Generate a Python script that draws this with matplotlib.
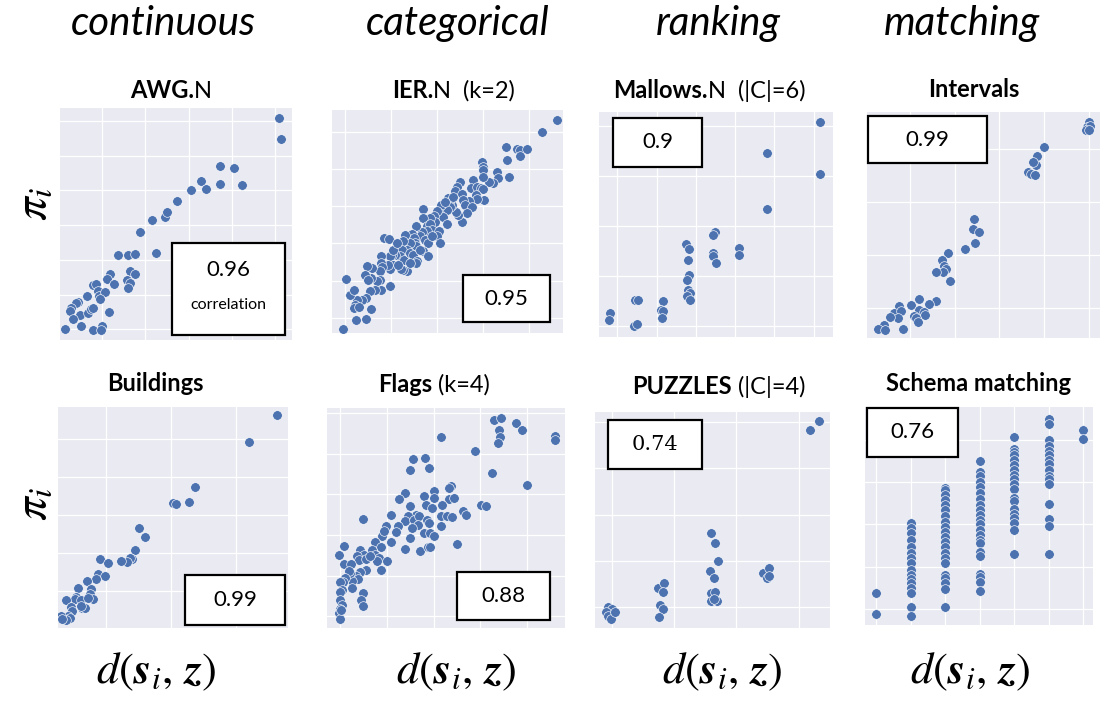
import numpy as np
import matplotlib.pyplot as plt
from matplotlib.patches import Rectangle

W, H = 1116, 701

# ---------------------------------------------------------------------------
# data (arbitrary units, the plots carry no tick labels)
# ---------------------------------------------------------------------------
awg_x = [6.55, 6.63, 4.80, 5.20, 3.93, 4.23, 4.38, 4.80, 5.45, 3.50, 2.77, 3.15,
         3.20, 2.40, 1.75, 2.03, 2.24, 2.87, 2.09, 2.25, 1.50, 1.42, 1.63, 2.00,
         2.10, 2.03, 0.98, 1.09, 0.82, 1.13, 1.18, 1.35, 1.20, 0.55, 0.48, 0.34,
         0.30, 0.60, 0.40, 0.84, 0.93, 1.00, 1.46, 0.62, 0.15, 1.00, 1.25, 1.22]
awg_y = [6.65, 6.03, 5.22, 5.14, 4.50, 4.77, 4.52, 4.67, 4.65, 4.15, 3.60, 3.68,
         3.82, 3.23, 2.55, 2.55, 2.59, 2.62, 2.08, 1.98, 1.97, 1.83, 1.67, 1.80,
         1.72, 1.55, 1.65, 1.67, 1.33, 1.47, 1.33, 1.45, 1.22, 1.15, 1.10, 0.97,
         0.87, 0.75, 0.62, 0.82, 0.92, 0.97, 0.83, 0.42, 0.32, 0.30, 0.42, 0.30]

ier_x = [6.77, 6.32, 5.25, 5.57, 5.67, 5.88, 5.65, 5.27, 4.50, 4.53, 4.55, 4.97,
         5.32, 5.00, 4.85, 4.71, 4.53, 4.23, 3.85, 3.75, 3.70, 4.17, 4.35, 4.47,
         4.55, 4.33, 4.57, 4.35, 4.13, 3.90, 3.95, 4.00, 4.22, 4.05, 3.90, 3.80,
         3.72, 3.60, 3.48, 3.53, 3.55, 3.45, 3.27, 3.23, 3.35, 3.45, 3.15, 3.07,
         3.10, 2.95, 2.75, 2.75, 2.85, 2.95, 3.02, 3.23, 3.15, 3.25, 2.87, 2.70,
         2.65, 2.80, 2.90, 2.75, 2.88, 2.53, 2.40, 2.47, 2.50, 2.53, 2.35, 2.27,
         2.20, 2.15, 2.10, 2.05, 2.18, 2.35, 2.45, 2.55, 2.53, 2.25, 2.15, 2.08,
         1.90, 1.80, 1.73, 1.57, 1.71, 1.83, 1.75, 1.67, 1.47, 1.47, 1.50, 1.45,
         1.45, 1.48, 1.35, 1.30, 1.20, 1.17, 1.05, 1.00, 1.07, 1.13, 1.03, 0.90,
         0.75, 0.70, 0.65, 0.80, 0.55, 0.65, 1.18, 1.03, 0.73, 0.41, 0.32, 1.75,
         1.85, 2.00, 2.65, 3.65, 3.40, 3.00, 2.35, 1.97]
ier_y = [6.40, 6.04, 5.58, 5.53, 5.50, 5.53, 5.33, 5.20, 5.15, 5.00, 4.90, 4.83,
         4.68, 4.65, 4.50, 4.55, 4.68, 4.60, 4.55, 4.38, 4.28, 4.35, 4.40, 4.35,
         4.32, 4.15, 4.00, 4.02, 3.98, 4.18, 4.00, 3.85, 3.80, 3.60, 3.35, 3.55,
         3.65, 3.85, 4.05, 3.95, 3.80, 3.70, 3.85, 3.60, 3.50, 3.28, 3.68, 3.52,
         3.35, 3.45, 3.72, 3.45, 3.22, 3.28, 3.10, 3.05, 2.90, 2.70, 3.05, 3.03,
         2.90, 2.80, 2.70, 2.45, 2.32, 3.20, 2.98, 2.85, 2.70, 2.60, 2.70, 2.50,
         2.95, 2.75, 2.50, 2.30, 2.20, 2.40, 2.35, 2.15, 2.10, 1.85, 1.90, 1.92,
         2.35, 2.35, 2.30, 2.85, 2.82, 2.05, 1.92, 2.05, 2.30, 2.10, 1.98, 1.85,
         1.60, 1.30, 1.55, 1.30, 1.95, 1.65, 2.00, 1.75, 1.58, 1.25, 1.05, 1.00,
         1.00, 0.85, 0.75, 0.78, 1.15, 1.30, 0.72, 0.42, 0.38, 1.63, 0.12, 1.40,
         2.50, 2.05, 2.50, 4.10, 3.95, 2.90, 2.10, 2.70]

mallows_x = [6.63, 5.06, 6.63, 5.06, 3.48, 3.43, 2.61, 2.71, 3.41, 3.43, 3.51, 4.21,
             4.21, 2.68, 2.70, 2.65, 2.68, 2.73, 2.63, 2.73, 1.08, 1.16, 1.93, 1.85,
             1.91, 1.88, 0.33, 0.31, 1.05, 1.15]
mallows_y = [6.45, 5.53, 4.88, 3.83, 3.15, 3.05, 2.78, 2.63, 2.52, 2.42, 2.22, 2.67,
             2.47, 2.30, 1.87, 1.72, 1.42, 1.32, 1.22, 1.12, 1.10, 1.10, 1.08, 0.82,
             0.77, 0.57, 0.72, 0.50, 0.32, 0.40]

intervals_x = [6.67, 6.62, 6.70, 6.58, 6.66, 5.33, 5.12, 5.07, 5.00, 4.83, 4.92, 5.05,
               3.20, 3.17, 3.36, 3.25, 2.95, 2.42, 2.25, 2.32, 2.38, 2.27, 2.08, 2.48,
               2.08, 1.85, 1.55, 1.32, 1.55, 1.70, 1.73, 1.40, 1.48, 1.54, 0.95, 0.80,
               1.03, 0.92, 0.68, 0.50, 0.32, 0.55, 1.08]
intervals_y = [6.50, 6.35, 6.37, 6.25, 6.25, 5.75, 5.48, 5.20, 5.30, 5.00, 4.93, 4.90,
               3.58, 3.28, 3.20, 2.87, 2.67, 2.55, 2.35, 2.17, 2.07, 2.00, 2.00, 1.72,
               1.12, 1.02, 1.17, 1.00, 0.83, 0.78, 0.70, 0.67, 0.60, 0.48, 0.97, 0.75,
               0.82, 0.60, 0.63, 0.38, 0.28, 0.25, 0.28]

buildings_x = [6.58, 5.72, 4.10, 3.93, 3.45, 3.55, 2.43, 2.61, 2.31, 2.23, 2.15, 2.07,
               1.88, 1.27, 1.51, 1.20, 1.40, 1.13, 0.88, 1.00, 0.95, 0.60, 0.55, 0.50,
               0.70, 1.05, 0.90, 0.25, 0.40, 0.43, 0.73, 0.80, 0.70, 0.30, 0.35, 0.25,
               0.08, 0.12]
buildings_y = [6.42, 5.60, 4.25, 3.78, 3.77, 3.72, 3.00, 2.75, 2.35, 2.07, 2.12, 2.00,
               2.03, 2.07, 1.95, 1.63, 1.55, 1.47, 1.42, 1.17, 1.03, 1.20, 0.92, 0.87,
               0.85, 0.88, 0.90, 0.85, 0.63, 0.50, 0.60, 0.60, 0.65, 0.37, 0.30, 0.25,
               0.35, 0.27]

flags_x = [5.02, 5.22, 5.68, 5.87, 5.16, 5.20, 5.15, 6.85, 6.85, 3.42, 4.45, 4.95,
           6.02, 2.58, 2.93, 2.48, 3.05, 3.73, 3.68, 3.20, 3.20, 3.68, 3.82, 3.45,
           2.90, 2.98, 3.15, 2.34, 2.16, 2.48, 2.68, 2.43, 2.35, 2.60, 2.77, 2.73,
           3.00, 3.05, 2.90, 3.08, 3.22, 3.41, 3.60, 3.75, 3.42, 4.10, 4.17, 4.62,
           4.77, 3.90, 2.55, 2.48, 2.35, 2.78, 3.02, 3.10, 1.92, 1.78, 1.65, 1.72,
           2.14, 2.06, 1.92, 1.45, 1.63, 1.35, 1.43, 1.55, 1.50, 1.63, 1.80, 1.07,
           1.00, 1.10, 0.90, 0.95, 1.17, 1.30, 1.16, 1.00, 0.88, 0.93, 0.75, 0.75,
           0.70, 0.52, 0.35, 0.52, 0.72, 0.65, 0.55, 0.48, 0.38, 0.45, 0.38, 0.40,
           0.45, 0.38, 0.35, 0.40, 0.42, 1.07, 1.02, 1.07]
flags_y = [6.25, 6.29, 6.15, 5.95, 5.95, 5.73, 5.55, 5.75, 5.65, 5.73, 5.30, 4.65,
           4.30, 5.07, 5.09, 4.75, 4.80, 4.25, 4.19, 4.10, 3.90, 3.87, 3.89, 3.70,
           3.97, 3.70, 3.60, 4.05, 3.87, 3.65, 3.40, 3.35, 3.20, 3.23, 3.35, 3.10,
           3.23, 3.15, 2.85, 2.85, 2.75, 3.35, 3.35, 3.33, 3.07, 3.50, 3.40, 3.70,
           3.67, 2.53, 3.00, 2.70, 2.38, 2.30, 2.42, 2.42, 3.40, 3.05, 2.77, 2.90,
           3.05, 2.87, 2.58, 2.57, 2.43, 2.35, 2.20, 2.10, 2.00, 1.75, 2.00, 3.27,
           2.35, 2.20, 2.17, 2.05, 2.07, 2.15, 1.75, 1.67, 1.55, 1.47, 1.40, 1.20,
           1.65, 2.45, 2.20, 1.92, 1.93, 1.70, 1.50, 1.38, 1.38, 1.15, 1.07, 0.85,
           0.70, 0.57, 0.45, 0.27, 0.55, 1.05, 0.85, 0.67]

puzzles_x = [6.73, 6.45, 3.47, 3.60, 3.70, 3.45, 3.57, 3.47, 3.60, 3.47, 3.65, 3.57,
             5.03, 5.23, 5.15, 5.23, 1.88, 2.07, 2.05, 1.95, 2.05, 1.92, 0.40, 0.52,
             0.33, 0.40, 0.48, 0.59]
puzzles_y = [6.23, 5.95, 2.85, 2.55, 2.03, 1.72, 1.50, 1.05, 1.07, 0.80, 0.80, 0.87,
             1.65, 1.80, 1.50, 1.57, 1.20, 1.35, 1.07, 0.70, 0.57, 0.33, 0.63, 0.57,
             0.47, 0.37, 0.27, 0.47]

schema_x = [0, 0,
            1, 1, 1, 1, 1, 1, 1, 1, 1, 1, 1, 1, 1, 1, 1, 1,
            2, 2, 2, 2, 2, 2, 2, 2, 2, 2, 2, 2, 2, 2, 2, 2, 2, 2, 2, 2, 2,
            3, 3, 3, 3, 3, 3, 3, 3, 3, 3, 3, 3, 3, 3, 3, 3, 3, 3, 3, 3, 3, 3,
            4, 4, 4, 4, 4, 4, 4, 4, 4, 4, 4, 4, 4, 4, 4, 4, 4, 4, 4,
            5, 5, 5, 5, 5, 5, 5, 5, 5, 5, 5, 5, 5, 5, 5, 5,
            6, 6]
schema_y = [0.95, 0.32,
            3.05, 2.90, 2.75, 2.55, 2.35, 2.17, 2.00, 1.85, 1.65, 1.50, 1.37, 1.25,
            1.10, 0.97, 0.55, 0.27,
            4.13, 4.05, 3.90, 3.75, 3.60, 3.45, 3.27, 3.10, 2.95, 2.80, 2.65, 2.50,
            2.35, 2.17, 2.00, 1.85, 1.50, 1.40, 1.25, 1.07, 0.53,
            4.93, 4.60, 4.47, 4.30, 4.15, 3.97, 3.80, 3.60, 3.45, 3.30, 3.15, 3.03,
            2.85, 2.70, 2.55, 2.45, 2.20, 2.07, 1.53, 1.43, 1.30, 1.03,
            5.65, 5.30, 5.20, 5.10, 4.95, 4.80, 4.65, 4.50, 4.40, 4.25, 4.10, 3.82,
            3.73, 3.50, 3.35, 3.20, 3.05, 2.85, 2.12,
            6.18, 6.03, 5.55, 5.37, 5.22, 5.10, 4.95, 4.83, 4.67, 4.47, 4.40, 4.25,
            3.63, 3.18, 2.98, 2.12,
            5.85, 5.58]

correlations = ['0.96', '0.95', '0.9', '0.99', '0.99', '0.88', '0.74', '0.76']
column_names = ['continuous', 'categorical', 'ranking', 'matching']
titles_bold = ['AWG.', 'IER.', 'Mallows.', 'Intervals',
               'Buildings', 'Flags', 'PUZZLES', 'Schema matching']
titles_rest = ['N', 'N  (k=2)', 'N  (|C|=6)', '',
               '', ' (k=4)', ' (|C|=4)', '']

# ---------------------------------------------------------------------------
# layout (pixels of the 1116x701 picture)
# ---------------------------------------------------------------------------
panels = [
    # data, (left, top, right, bottom), xlim, ylim, x grid, y grid
    (awg_x, awg_y, (60, 108, 292, 340), (0, 6.95), (0, 6.95), (1.25, 1.30), (0.32, 1.04)),
    (ier_x, ier_y, (332, 110, 563, 333), (0, 6.95), (0, 6.70), (0.40, 1.385), (0.45, 1.12)),
    (mallows_x, mallows_y, (599, 112, 833, 337), (0, 7.03), (0, 6.75), (0.55, 1.18), (0.33, 1.50)),
    (intervals_x, intervals_y, (867, 112, 1100, 338), (0, 7.00), (0, 6.80), (1.28, 1.35), (0.90, 1.60)),
    (buildings_x, buildings_y, (58, 407, 288, 628), (0, 6.90), (0, 6.65), (1.45, 1.95), (1.10, 1.15)),
    (flags_x, flags_y, (327, 408, 565, 628), (0, 7.15), (0, 6.60), (0.40, 1.40), (0.35, 1.22)),
    (puzzles_x, puzzles_y, (595, 412, 830, 628), (0, 7.05), (0, 6.50), (0.50, 1.87), (0.63, 1.39)),
    (schema_x, schema_y, (865, 407, 1093, 625), (-0.32, 6.29), (0, 6.55), (0, 1.0), (0.48, 1.27)),
]
# correlation boxes (left, top, right, bottom)
boxes = [(172, 243, 285, 335), (463, 275, 550, 322), (613, 118, 702, 167),
         (868, 116, 987, 163), (185, 575, 285, 625), (457, 572, 550, 620),
         (608, 420, 702, 469), (867, 408, 958, 457)]
title_pos = [(130, 98), (392, 98), (613, 98), (928, 97),
             (107, 391), (378, 392), (632, 394), (886, 391)]
header_x = [163, 458, 718, 962]
xlabel_x = [156, 456, 722, 970]

plt.rcParams['mathtext.fontset'] = 'stix'
plt.rcParams['font.family'] = ['Lato', 'DejaVu Sans']

fig = plt.figure(figsize=(W / 100, H / 100), dpi=100)


def fx(px):
    return px / W


def fy(py):
    return 1 - py / H


for i, (x, y, (l, t, r, b), xlim, ylim, gx, gy) in enumerate(panels):
    ax = fig.add_axes([fx(l), fy(b), (r - l) / W, (b - t) / H])
    ax.set_facecolor('#EAEAF2')
    ax.scatter(x, y, s=48, color='#4C72B0', edgecolor='white', linewidth=0.45, zorder=3)
    ax.set_xlim(xlim)
    ax.set_ylim(ylim)
    ax.set_xticks(np.arange(gx[0], xlim[1], gx[1]))
    ax.set_yticks(np.arange(gy[0], ylim[1], gy[1]))
    ax.set_xticklabels([])
    ax.set_yticklabels([])
    ax.tick_params(length=0)
    ax.grid(True, color='white', linewidth=0.9)
    ax.set_axisbelow(True)
    for sp in ax.spines.values():
        sp.set_visible(False)

    # panel title: bold name followed by plain suffix
    tx, ty = title_pos[i]
    tb = fig.text(fx(tx), fy(ty), titles_bold[i], fontsize=17, fontweight='bold',
                  ha='left', va='baseline')
    if titles_rest[i]:
        ax.annotate(titles_rest[i], xy=(1, 0), xycoords=tb, fontsize=17,
                    ha='left', va='bottom', annotation_clip=False)

    # correlation box
    bl, bt, br, bb = boxes[i]
    fig.patches.append(Rectangle((fx(bl), fy(bb)), (br - bl) / W, (bb - bt) / H,
                                 transform=fig.transFigure, facecolor='white',
                                 edgecolor='black', linewidth=1.6, zorder=5))
    cx = (bl + br) / 2
    if i == 0:
        fig.text(fx(cx), fy(270), correlations[i], fontsize=16, ha='center', va='center', zorder=6)
        fig.text(fx(cx), fy(305), 'correlation', fontsize=11.5, ha='center', va='center', zorder=6)
    elif i == 6:
        fig.text(fx(cx), fy((bt + bb) / 2), correlations[i], fontsize=15,
                 family='DejaVu Serif', ha='center', va='center', zorder=6)
    else:
        fig.text(fx(cx), fy((bt + bb) / 2), correlations[i], fontsize=16,
                 ha='center', va='center', zorder=6)

for name, hx in zip(column_names, header_x):
    fig.text(fx(hx), fy(35), name, fontsize=29, style='italic', ha='center', va='baseline')

for lx in xlabel_x:
    fig.text(fx(lx), fy(672), r'$d(\mathbfit{s}_i,\,\mathbfit{z})$', fontsize=32,
             ha='center', va='center')

for py in [204, 504]:
    fig.text(fx(33), fy(py), r'$\pi_i$', fontsize=34, rotation=90, ha='center', va='center')

fig.savefig('out.png', dpi=100, facecolor='white')
